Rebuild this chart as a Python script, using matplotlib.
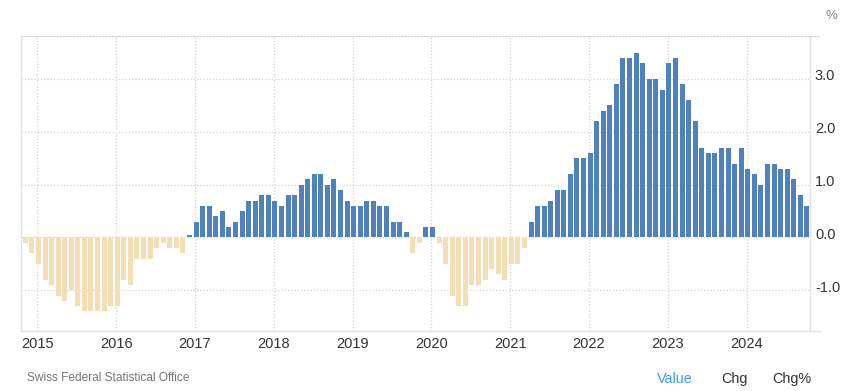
import numpy as np
import matplotlib.pyplot as plt

plt.rcParams['font.family'] = ['Liberation Sans', 'DejaVu Sans']

# Swiss inflation rate, yoy %, monthly from Nov 2014 to Oct 2024
cpi_2014 = [-0.1, -0.3]
cpi_2015 = [-0.5, -0.8, -0.9, -1.1, -1.2, -1.0, -1.3, -1.4, -1.4, -1.4, -1.4, -1.3]
cpi_2016 = [-1.3, -0.8, -0.9, -0.4, -0.4, -0.4, -0.2, -0.1, -0.2, -0.2, -0.3, 0.0]
cpi_2017 = [0.3, 0.6, 0.6, 0.4, 0.5, 0.2, 0.3, 0.5, 0.7, 0.7, 0.8, 0.8]
cpi_2018 = [0.7, 0.6, 0.8, 0.8, 1.0, 1.1, 1.2, 1.2, 1.0, 1.1, 0.9, 0.7]
cpi_2019 = [0.6, 0.6, 0.7, 0.7, 0.6, 0.6, 0.3, 0.3, 0.1, -0.3, -0.1, 0.2]
cpi_2020 = [0.2, -0.1, -0.5, -1.1, -1.3, -1.3, -0.9, -0.9, -0.8, -0.6, -0.7, -0.8]
cpi_2021 = [-0.5, -0.5, -0.2, 0.3, 0.6, 0.6, 0.7, 0.9, 0.9, 1.2, 1.5, 1.5]
cpi_2022 = [1.6, 2.2, 2.4, 2.5, 2.9, 3.4, 3.4, 3.5, 3.3, 3.0, 3.0, 2.8]
cpi_2023 = [3.3, 3.4, 2.9, 2.6, 2.2, 1.7, 1.6, 1.6, 1.7, 1.7, 1.4, 1.7]
cpi_2024 = [1.3, 1.2, 1.0, 1.4, 1.4, 1.3, 1.3, 1.1, 0.8, 0.6]

years = [2015, 2016, 2017, 2018, 2019, 2020, 2021, 2022, 2023, 2024]
yticks = [-1.0, 0.0, 1.0, 2.0, 3.0]

values = np.array(cpi_2014 + cpi_2015 + cpi_2016 + cpi_2017 + cpi_2018 +
                  cpi_2019 + cpi_2020 + cpi_2021 + cpi_2022 + cpi_2023 + cpi_2024)

blue = '#4f81bd'
wheat = '#f5deb3'
grid_col = '#d2d2d2'
axis_col = '#e3e3e3'
dots = (0, (1, 1.6))

x = np.arange(len(values))
# zero months still get a thin bar, like the original
heights = np.where(values == 0, 0.05, values)
colors = [blue if v >= 0 else wheat for v in values]

fig = plt.figure(figsize=(8.47, 3.91), dpi=100)
ax = fig.add_axes([21 / 847, 60 / 391, 799 / 847, 295 / 391])

ax.bar(x, heights, width=0.76, color=colors, zorder=2)

ax.set_xlim(-0.655, 121.0)
ax.set_ylim(-1.771, 3.816)
x_right = 119.47

# dotted grid
ax.hlines(yticks, ax.get_xlim()[0], x_right, colors=grid_col,
          linewidth=0.9, linestyles=dots, zorder=1)
year_x = [(y - 2014) * 12 - 10 - 0.17 for y in years]
ax.vlines(year_x, -1.771, 3.816, colors=grid_col,
          linewidth=0.9, linestyles=dots, zorder=1)
ax.axvline(x_right, color=axis_col, linewidth=1.0, zorder=1)

for s in ['left', 'bottom']:
    ax.spines[s].set_color(axis_col)
    ax.spines[s].set_linewidth(1.0)
ax.spines['right'].set_visible(False)
ax.spines['top'].set_color(grid_col)
ax.spines['top'].set_linewidth(0.9)
ax.spines['top'].set_linestyle(dots)

ax.set_xticks(year_x)
ax.set_xticklabels([str(y) for y in years])
ax.tick_params(axis='x', length=0, pad=4, labelsize=10.5, labelcolor='#333333')
ax.set_yticks([])

for v in yticks:
    ax.text(0.9937, v + 0.05, '%.1f' % v, transform=ax.get_yaxis_transform(),
            ha='left', va='center', fontsize=10.5, color='#333333', clip_on=False)

fig.text(831 / 847, 1 - 16 / 391, '%', ha='center', va='center',
         fontsize=9.5, color='#888888')

fig.text(27 / 847, 1 - 378 / 391, 'Swiss Federal Statistical Office',
         ha='left', va='center', fontsize=8.6, color='#777777')
fig.text(657 / 847, 1 - 379 / 391, 'Value', ha='left', va='center',
         fontsize=10.4, color='#3f9af0')
fig.text(721 / 847, 1 - 379 / 391, 'Chg', ha='left', va='center',
         fontsize=10.4, color='#333333')
fig.text(772 / 847, 1 - 379 / 391, 'Chg%', ha='left', va='center',
         fontsize=10.4, color='#333333')

fig.savefig('out.png', dpi=100)
